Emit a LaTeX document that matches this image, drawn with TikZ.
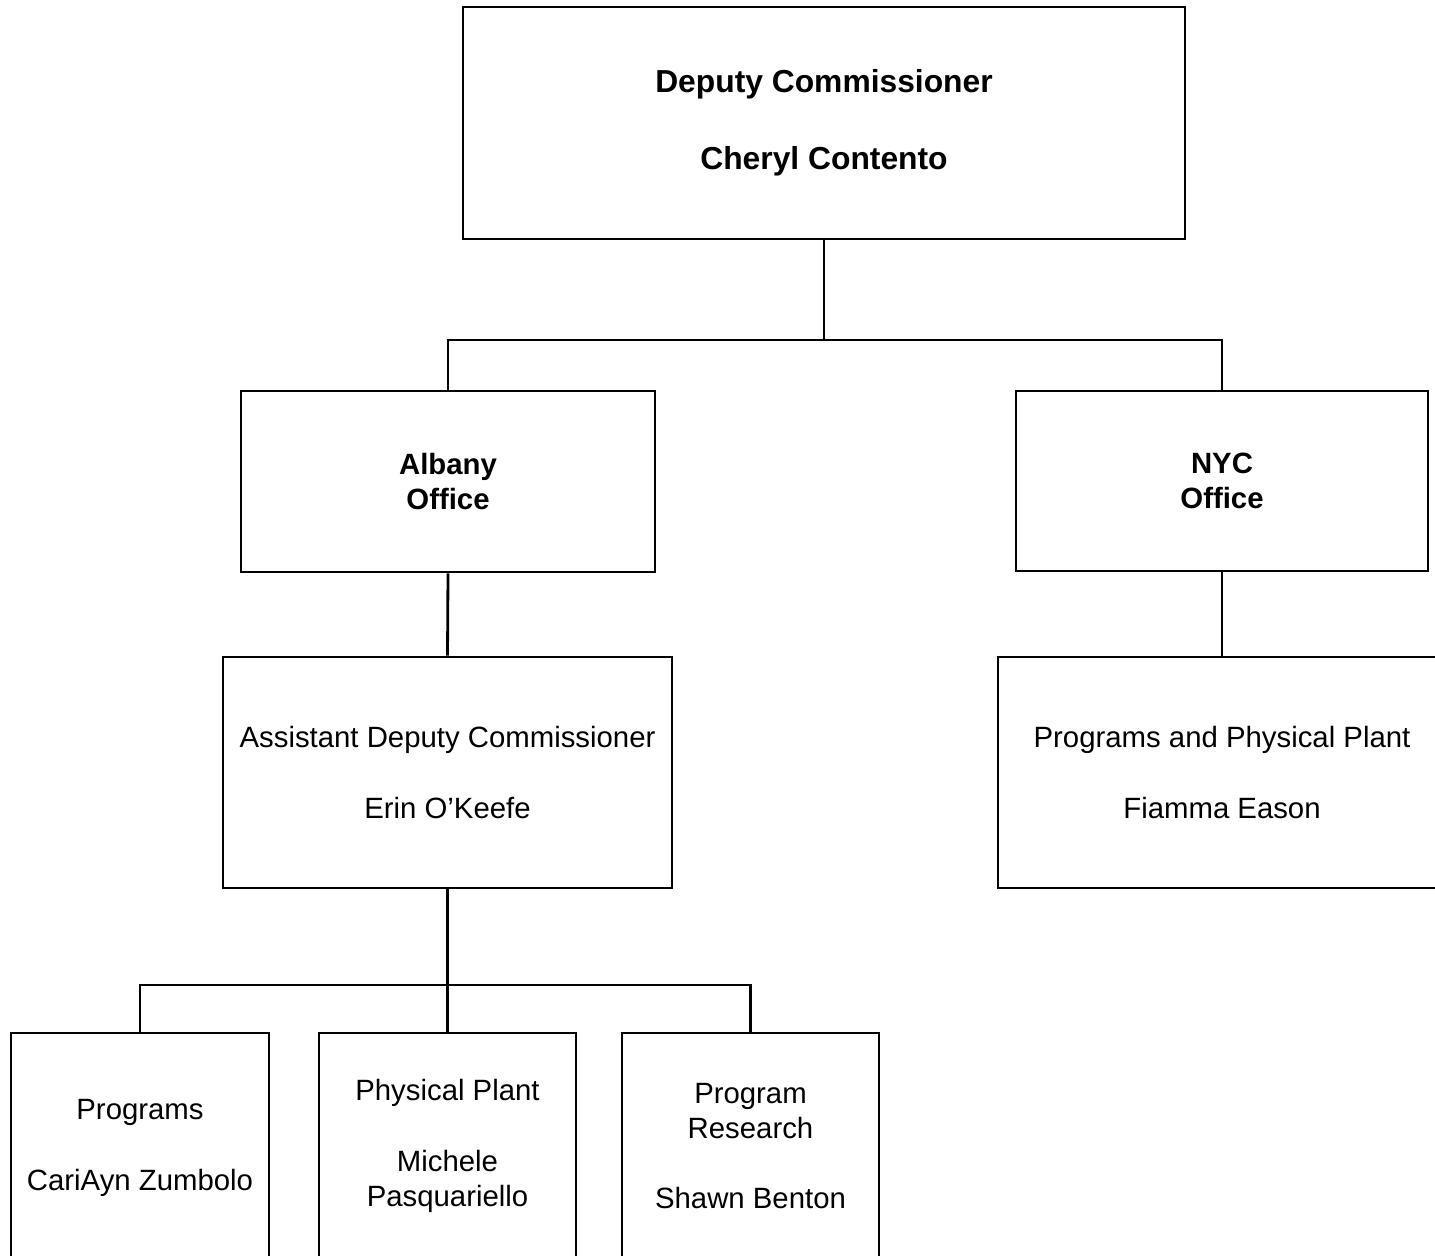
\documentclass[tikz,border=0pt]{standalone}
\usepackage{fontspec}
\setmainfont{Liberation Sans}

\begin{document}
\begin{tikzpicture}[x=0.02cm,y=-0.02cm,line width=1.6pt,
		box/.style={draw,align=center,inner sep=0pt,font=\fontsize{16.7}{20}\selectfont},
		headbox/.style={box,font=\fontsize{16.7}{20}\selectfont\bfseries}]
			% Rahmen festlegen
			\useasboundingbox (0,0) rectangle (1435,1256);
			\clip (0,0) rectangle (1435,1256);
			
			% Leitung
			\node[headbox,font=\fontsize{18.1}{20}\selectfont\bfseries,minimum width=14.44cm,minimum height=4.64cm] (dc) at (824,123) {Deputy Commissioner\\[24pt]Cheryl Contento};
			
			% Standorte
			\node[headbox,minimum width=8.28cm,minimum height=3.62cm] (albany) at (448,481.5) {Albany\\Office};
			\node[headbox,minimum width=8.24cm,minimum height=3.6cm] (nyc) at (1222,481) {NYC\\Office};
			
			% Zweite Ebene
			\node[box,minimum width=8.98cm,minimum height=4.62cm] (adc) at (447.5,772.5) {Assistant Deputy Commissioner\\[20pt]Erin O'Keefe};
			\node[box,minimum width=8.96cm,minimum height=4.62cm] (nycplant) at (1222,772.5) {Programs and Physical Plant\\[20pt]Fiamma Eason};
			
			% Abteilungen
			\node[box,minimum width=5.16cm,minimum height=4.6cm] (programs) at (140,1148) {Programs\\[20pt]CariAyn Zumbolo};
			\node[box,minimum width=5.14cm,minimum height=4.52cm] (plant) at (447.5,1146) {Physical Plant\\[20pt]Michele\\Pasquariello};
			\node[box,minimum width=5.14cm,minimum height=4.52cm] (research) at (750.5,1146) {Program\\Research\\[20pt]Shawn Benton};
			
			% Verbindungen zeichnen
			\coordinate (fork1) at (824,340);
			\coordinate (fork2) at (447.5,985);
			\draw (dc.south) -- (fork1);
			\draw (albany.north) |- (fork1) -| (nyc.north);
			\draw (albany.south) -- (adc.north);
			\draw (nyc.south) -- (nycplant.north);
			\draw (adc.south) -- (fork2);
			\draw (programs.north) |- (fork2) -| (research.north);
			\draw (fork2) -- (plant.north);
	\end{tikzpicture}
\end{document}
